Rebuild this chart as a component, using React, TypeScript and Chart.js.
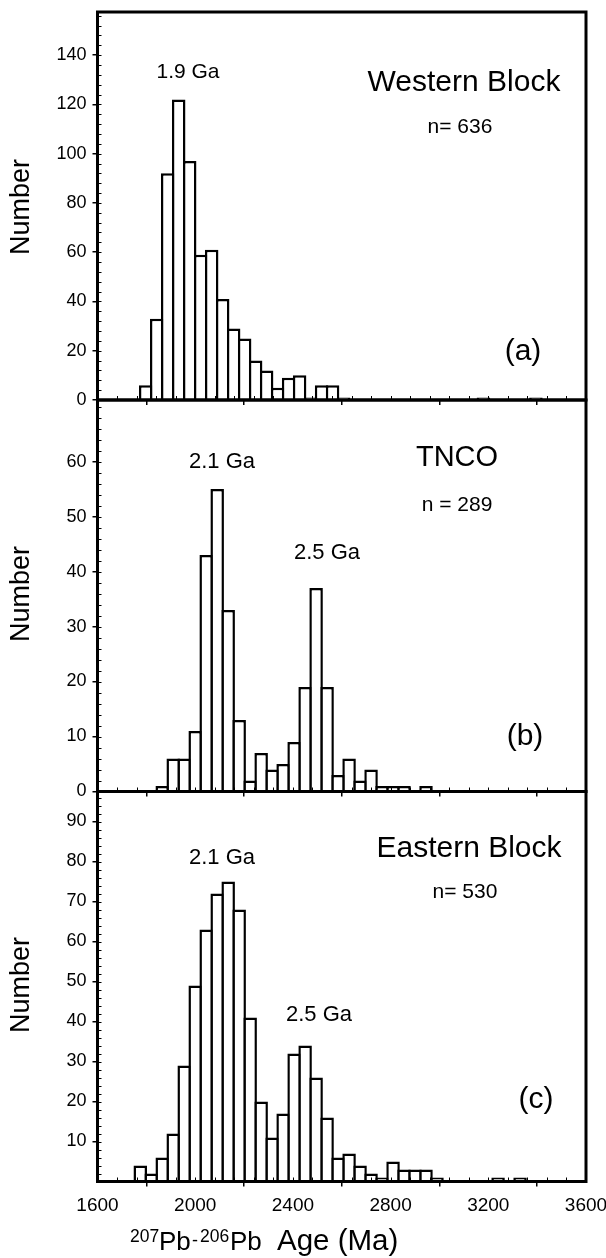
import React, { useEffect, useRef } from "react";
import { Chart, registerables } from "chart.js";

Chart.register(...registerables);

const FONT = '"Liberation Sans", Arial, Helvetica, sans-serif';

// ---------- data ----------
const AGE_TICKS = [1600, 2000, 2400, 2800, 3200, 3600];

// (a) Western Block, n = 636
const binsWestern = [
  1797.5, 1842.5, 1887.5, 1932.5, 1977.5, 2022.5, 2067.5, 2112.5, 2157.5, 2202.5,
  2247.5, 2292.5, 2337.5, 2382.5, 2427.5, 2472.5, 2517.5, 2562.5, 2607.5, 3180, 3395,
];
const countsWestern = [6, 33, 92, 122, 97, 59, 61, 41, 29, 25, 16, 12, 5, 9, 10, 1, 6, 6, 1, 1, 1];
const yTicksWestern = [0, 20, 40, 60, 80, 100, 120, 140];

// (b) TNCO, n = 289
const binsTNCO = [
  1865, 1910, 1955, 2000, 2045, 2090, 2135, 2180, 2225, 2270, 2315, 2360, 2405,
  2450, 2495, 2540, 2585, 2630, 2675, 2720, 2765, 2810, 2855, 2900, 2945,
];
const countsTNCO = [1, 6, 6, 11, 43, 55, 33, 13, 2, 7, 4, 5, 9, 19, 37, 19, 3, 6, 2, 4, 1, 1, 1, 0, 1];
const yTicksTNCO = [0, 10, 20, 30, 40, 50, 60];

// (c) Eastern Block, n = 530
const binsEastern = [
  1775, 1820, 1865, 1910, 1955, 2000, 2045, 2090, 2135, 2180, 2225, 2270, 2315,
  2360, 2405, 2450, 2495, 2540, 2585, 2630, 2675, 2720, 2765, 2810, 2855, 2900,
  2945, 2990, 3240, 3330,
];
const countsEastern = [
  4, 2, 6, 12, 29, 49, 63, 72, 75, 68, 41, 20, 11, 17, 32, 34, 26, 16, 6, 7, 4, 2,
  1, 5, 3, 3, 3, 1, 1, 1,
];
const yTicksEastern = [10, 20, 30, 40, 50, 60, 70, 80, 90];

// ---------- layout ----------
const W = 606;
const H = 1258;
const PLOT_LEFT = 97.5;
const PLOT_RIGHT = 586;

type Txt = { t: string; x: number; y: number; size: number };

type Panel = {
  bins: number[];
  counts: number[];
  yTicks: number[];
  yMax: number;
  top: number;
  bottom: number;
  showX: boolean;
  texts: Txt[];
  yTitleY: number;
  xTitle: boolean;
};

const panels: Panel[] = [
  {
    bins: binsWestern,
    counts: countsWestern,
    yTicks: yTicksWestern,
    yMax: 157.5,
    top: 12,
    bottom: 400,
    showX: false,
    yTitleY: 207,
    xTitle: false,
    texts: [
      { t: "1.9 Ga", x: 188, y: 72, size: 21 },
      { t: "Western Block", x: 464, y: 83, size: 30 },
      { t: "n= 636", x: 460, y: 127, size: 21 },
      { t: "(a)", x: 523, y: 352, size: 30 },
    ],
  },
  {
    bins: binsTNCO,
    counts: countsTNCO,
    yTicks: yTicksTNCO,
    yMax: 71.2,
    top: 400,
    bottom: 791.5,
    showX: false,
    yTitleY: 594,
    xTitle: false,
    texts: [
      { t: "2.1 Ga", x: 222, y: 462, size: 22 },
      { t: "TNCO", x: 457, y: 458, size: 29 },
      { t: "n = 289", x: 457, y: 505, size: 21 },
      { t: "2.5 Ga", x: 327, y: 553, size: 22 },
      { t: "(b)", x: 525, y: 737, size: 30 },
    ],
  },
  {
    bins: binsEastern,
    counts: countsEastern,
    yTicks: yTicksEastern,
    yMax: 97.5,
    top: 791.5,
    bottom: 1181.5,
    showX: true,
    yTitleY: 985,
    xTitle: true,
    texts: [
      { t: "Eastern Block", x: 469, y: 849, size: 30 },
      { t: "2.1 Ga", x: 222, y: 858, size: 22 },
      { t: "n= 530", x: 465, y: 892, size: 21 },
      { t: "2.5 Ga", x: 319, y: 1015, size: 22 },
      { t: "(c)", x: 536, y: 1100, size: 30 },
    ],
  },
];

const X_AXIS_BOX = 50;

function makeFramePlugin(p: Panel) {
  return {
    id: "frameAndText",
    afterDraw(chart: any) {
      const ctx: CanvasRenderingContext2D = chart.ctx;
      const ca = chart.chartArea;
      const xs = chart.scales.x;
      const ys = chart.scales.y;
      ctx.save();
      // minor ticks (inside)
      ctx.strokeStyle = "#000";
      ctx.lineWidth = 1;
      const yStep = (p.yTicks[1] - p.yTicks[0]) / 5;
      for (let v = 0; v <= p.yMax; v += yStep) {
        const py = Math.round(ys.getPixelForValue(v)) + 0.5;
        ctx.beginPath();
        ctx.moveTo(ca.left, py);
        ctx.lineTo(ca.left + 4, py);
        ctx.stroke();
      }
      const xStep = (AGE_TICKS[1] - AGE_TICKS[0]) / 5;
      for (let v = AGE_TICKS[0]; v <= AGE_TICKS[AGE_TICKS.length - 1]; v += xStep) {
        const px = Math.round(xs.getPixelForValue(v)) + 0.5;
        ctx.beginPath();
        ctx.moveTo(px, ca.bottom);
        ctx.lineTo(px, ca.bottom - 4);
        ctx.stroke();
      }
      // frame
      ctx.lineWidth = 3;
      ctx.strokeRect(ca.left, ca.top, ca.right - ca.left, ca.bottom - ca.top);

      // annotations
      ctx.fillStyle = "#000";
      ctx.textAlign = "center";
      ctx.textBaseline = "middle";
      for (const tx of p.texts) {
        ctx.font = `${tx.size}px ${FONT}`;
        ctx.fillText(tx.t, tx.x, tx.y);
      }

      // y title
      ctx.save();
      ctx.translate(22, p.yTitleY);
      ctx.rotate(-Math.PI / 2);
      ctx.font = `27px ${FONT}`;
      ctx.fillText("Number", 0, 0);
      ctx.restore();

      // x title with superscripts
      if (p.xTitle) {
        ctx.textAlign = "left";
        ctx.textBaseline = "alphabetic";
        const base = 1250;
        const parts: { t: string; size: number; dy: number; x: number }[] = [
          { t: "207", size: 17.5, dy: -8, x: 130 },
          { t: "Pb", size: 26, dy: 0, x: 159 },
          { t: "-", size: 18, dy: -4, x: 192 },
          { t: "206", size: 17.5, dy: -8, x: 200 },
          { t: "Pb", size: 26, dy: 0, x: 230 },
          { t: "Age (Ma)", size: 29.5, dy: 0, x: 277 },
        ];
        for (const part of parts) {
          ctx.font = `${part.size}px ${FONT}`;
          ctx.fillText(part.t, part.x, base + part.dy);
        }
      }
      ctx.restore();
    },
  };
}

function makeConfig(p: Panel): any {
  const xBox = p.showX ? X_AXIS_BOX : 0;
  return {
    type: "bar",
    data: {
      datasets: [
        {
          data: p.bins.map((x, i) => ({ x, y: p.counts[i] })),
          backgroundColor: "#ffffff",
          borderColor: "#000000",
          borderWidth: 2.5,
          borderSkipped: "start",
          barPercentage: 1.23,
          categoryPercentage: 1,
        },
      ],
    },
    options: {
      responsive: false,
      animation: false,
      events: [],
      layout: {
        padding: { left: 0, right: W - PLOT_RIGHT, top: p.top, bottom: H - p.bottom - xBox },
      },
      plugins: {
        legend: { display: false },
        tooltip: { enabled: false },
        title: { display: false },
      },
      scales: {
        x: {
          type: "linear",
          min: AGE_TICKS[0],
          max: AGE_TICKS[AGE_TICKS.length - 1],
          offset: false,
          afterFit: (s: any) => {
            s.height = xBox;
            s.paddingLeft = 0;
            s.paddingRight = 0;
          },
          afterBuildTicks: (s: any) => {
            s.ticks = AGE_TICKS.map((v) => ({ value: v }));
          },
          ticks: {
            display: p.showX,
            autoSkip: false,
            maxRotation: 0,
            minRotation: 0,
            padding: 8,
            color: "#000",
            font: { family: FONT, size: 19 },
            callback: (v: any) => String(v),
          },
          grid: {
            drawOnChartArea: false,
            drawTicks: true,
            tickLength: 5,
            color: "#000",
            lineWidth: 1.5,
          },
          border: { display: false },
        },
        y: {
          type: "linear",
          min: 0,
          max: p.yMax,
          afterFit: (s: any) => {
            s.width = PLOT_LEFT;
            s.paddingTop = 0;
            s.paddingBottom = 0;
          },
          afterBuildTicks: (s: any) => {
            s.ticks = p.yTicks.map((v) => ({ value: v }));
          },
          ticks: {
            autoSkip: false,
            padding: 6,
            color: "#000",
            font: { family: FONT, size: 18 },
            callback: (v: any) => String(v),
          },
          grid: {
            drawOnChartArea: false,
            drawTicks: true,
            tickLength: 5,
            color: "#000",
            lineWidth: 1.5,
          },
          border: { display: false },
        },
      },
    },
    plugins: [makeFramePlugin(p)],
  };
}

export default function App() {
  const refs = [useRef<HTMLCanvasElement>(null), useRef<HTMLCanvasElement>(null), useRef<HTMLCanvasElement>(null)];

  useEffect(() => {
    const charts: Chart[] = [];
    panels.forEach((p, i) => {
      const c = refs[i].current;
      if (c) charts.push(new Chart(c, makeConfig(p)));
    });
    return () => {
      charts.forEach((ch) => ch.destroy());
    };
  }, []);

  return (
    <div
      style={{
        position: "absolute",
        left: 0,
        top: 0,
        width: W,
        height: H,
        background: "#ffffff",
        overflow: "hidden",
      }}
    >
      {panels.map((_, i) => (
        <canvas
          key={i}
          ref={refs[i]}
          width={W}
          height={H}
          style={{ position: "absolute", left: 0, top: 0, width: W, height: H }}
        />
      ))}
    </div>
  );
}
